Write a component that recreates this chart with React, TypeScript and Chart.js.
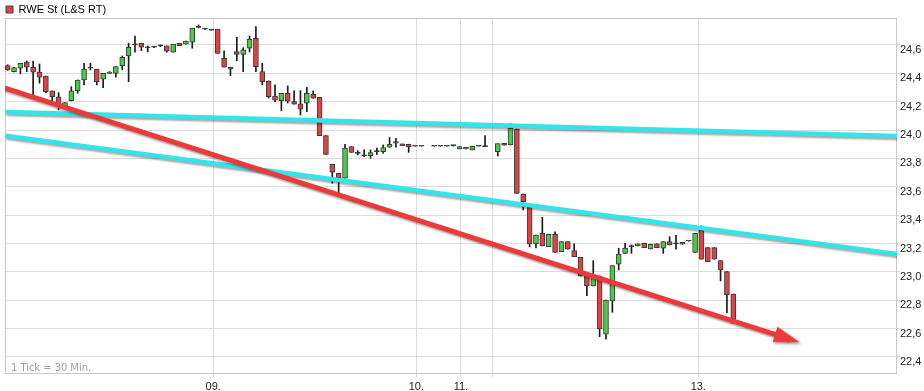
import React, { useEffect, useRef } from 'react';
import { Chart, registerables } from 'chart.js';

Chart.register(...registerables);

// ---- Data (30-minute candles, index = candle number) ----
const opens: (number | null)[] = [
  24.454, 24.412, 24.436, 24.480, 24.443, 24.408, 24.381, 24.276, 24.235, 24.163,
  24.207, 24.278, 24.353, 24.438, 24.429, 24.358, 24.400, 24.400, 24.454, 24.522,
  24.600, 24.612, 24.582, 24.586, 24.594, 24.593, 24.549, 24.612, 24.605, 24.619,
  24.724, 24.713, 24.706, 24.711, 24.506, 24.443, 24.553, 24.534, 24.577, 24.647,
  24.412, 24.346, 24.240, 24.207, 24.259, 24.200, 24.184, 24.189, 24.252, 24.231,
  23.961, 23.759, 23.695, 23.660, 23.883, 23.836, 23.819, 23.819, 23.848, 23.848,
  23.879, 23.918, 23.902, 23.900, 23.886, 23.886, null, 23.886, 23.886, 23.886,
  23.890, 23.867, 23.879, 23.860, 23.886, 23.883, null, 23.848, 23.907, 23.895,
  24.006, 23.549, 23.456, 23.197, 23.272, 23.178, 23.265, 23.143, 23.213, 23.150,
  23.103, 22.971, 22.901, 22.971, 22.560, 22.795, 23.054, 23.131, 23.178, 23.183,
  23.202, 23.162, 23.197, 23.167, 23.213, 23.197, 23.195, 23.218, 23.138, 23.296,
  23.171, 23.171, 23.079, 23.002, 22.844,
];
const highs: (number | null)[] = [
  24.460, 24.440, 24.471, 24.487, 24.487, 24.466, 24.381, 24.276, 24.264, 24.193,
  24.306, 24.353, 24.471, 24.471, 24.429, 24.400, 24.412, 24.447, 24.522, 24.612,
  24.663, 24.612, 24.593, 24.590, 24.600, 24.593, 24.605, 24.612, 24.628, 24.718,
  24.741, 24.716, 24.708, 24.711, 24.558, 24.443, 24.654, 24.581, 24.663, 24.729,
  24.471, 24.346, 24.318, 24.259, 24.311, 24.276, 24.278, 24.302, 24.276, 24.231,
  23.961, 23.759, 23.695, 23.900, 23.883, 23.855, 23.860, 23.860, 23.872, 23.895,
  23.947, 23.942, 23.902, 23.900, 23.886, 23.886, null, 23.886, 23.886, 23.886,
  23.893, 23.883, 23.879, 23.886, 23.886, 23.961, null, 23.904, 23.907, 24.048,
  24.006, 23.549, 23.456, 23.260, 23.385, 23.265, 23.282, 23.213, 23.213, 23.197,
  23.103, 22.971, 23.079, 22.971, 22.802, 23.044, 23.167, 23.202, 23.190, 23.197,
  23.202, 23.195, 23.197, 23.213, 23.248, 23.258, 23.209, 23.220, 23.272, 23.324,
  23.171, 23.171, 23.079, 23.002, 22.844,
];
const lows: (number | null)[] = [
  24.420, 24.410, 24.396, 24.412, 24.247, 24.330, 24.264, 24.200, 24.142, 24.156,
  24.205, 24.259, 24.318, 24.424, 24.318, 24.299, 24.398, 24.372, 24.424, 24.341,
  24.549, 24.560, 24.551, 24.580, 24.588, 24.549, 24.549, 24.595, 24.605, 24.577,
  24.720, 24.710, 24.704, 24.541, 24.443, 24.384, 24.489, 24.412, 24.551, 24.412,
  24.318, 24.226, 24.200, 24.137, 24.190, 24.182, 24.106, 24.130, 24.224, 23.961,
  23.829, 23.625, 23.554, 23.660, 23.843, 23.824, 23.812, 23.801, 23.829, 23.836,
  23.879, 23.879, 23.890, 23.843, 23.886, 23.886, null, 23.886, 23.886, 23.886,
  23.886, 23.867, 23.867, 23.860, 23.886, 23.883, null, 23.817, 23.893, 23.895,
  23.554, 23.437, 23.176, 23.169, 23.183, 23.178, 23.138, 23.143, 23.160, 23.107,
  22.971, 22.832, 22.901, 22.543, 22.525, 22.715, 23.014, 23.131, 23.131, 23.183,
  23.171, 23.162, 23.171, 23.131, 23.190, 23.160, 23.195, 23.216, 23.138, 23.089,
  23.072, 23.089, 22.936, 22.713, 22.638,
];
const closes: (number | null)[] = [
  24.424, 24.440, 24.471, 24.443, 24.408, 24.372, 24.271, 24.235, 24.170, 24.193,
  24.276, 24.353, 24.429, 24.436, 24.341, 24.400, 24.408, 24.447, 24.513, 24.584,
  24.603, 24.584, 24.580, 24.585, 24.596, 24.556, 24.605, 24.595, 24.628, 24.718,
  24.726, 24.712, 24.705, 24.541, 24.443, 24.429, 24.534, 24.565, 24.640, 24.447,
  24.341, 24.235, 24.210, 24.259, 24.203, 24.182, 24.147, 24.259, 24.224, 23.961,
  23.829, 23.703, 23.664, 23.872, 23.843, 23.835, 23.820, 23.841, 23.849, 23.876,
  23.900, 23.907, 23.890, 23.883, 23.886, 23.886, null, 23.886, 23.886, 23.886,
  23.890, 23.883, 23.867, 23.886, 23.886, 23.883, null, 23.904, 23.893, 24.013,
  23.554, 23.495, 23.197, 23.260, 23.183, 23.265, 23.138, 23.213, 23.160, 23.107,
  22.971, 22.901, 22.976, 22.598, 22.802, 23.044, 23.126, 23.167, 23.178, 23.197,
  23.171, 23.195, 23.171, 23.213, 23.190, 23.197, 23.209, 23.218, 23.272, 23.089,
  23.072, 23.089, 23.014, 22.837, 22.638,
];

// x-axis day separators (candle index positions) and their labels
const dayTickPositions = [32.3, 64.2, 71.2, 76.2, 108.5];
const dayTickLabels = ['09.', '10.', '11.', '', '13.'];

// y-axis tick values
const priceTicks = [22.4, 22.6, 22.8, 23.0, 23.2, 23.4, 23.6, 23.8, 24.0, 24.2, 24.4, 24.6];

// trend lines: [start, end] in (candle index, price)
const redTrendX = [-0.42, 122.5];
const redTrendY = [24.295, 22.532];
const cyanUpperX = [-0.1, 139.72];
const cyanUpperY = [24.128, 23.958];
const cyanLowerX = [-0.1, 139.72];
const cyanLowerY = [23.958, 23.126];

const X_MIN = -0.42;
const X_MAX = 139.72;
const Y_MIN = 22.28;
const Y_MAX = 24.79;

const RED = '#ec3a3a';
const CYAN = '#34e4ea';
const UP = '#46cc46';
const DOWN = '#dc4444';
const FONT = '"Liberation Sans", Arial, sans-serif';

function makeArrow(): HTMLCanvasElement {
  const c = document.createElement('canvas');
  c.width = 26;
  c.height = 18;
  const g = c.getContext('2d')!;
  g.fillStyle = RED;
  g.beginPath();
  g.moveTo(0, 1);
  g.lineTo(26, 9);
  g.lineTo(0, 17);
  g.closePath();
  g.fill();
  return c;
}

const lineShadow = {
  id: 'lineShadow',
  beforeDatasetDraw(chart: any, args: any) {
    const ds = chart.data.datasets[args.index];
    if (ds.type === 'line') {
      const ctx = chart.ctx;
      ctx.save();
      ctx.shadowColor = 'rgba(0,0,0,0.35)';
      ctx.shadowOffsetX = 1.5;
      ctx.shadowOffsetY = 2;
      ctx.shadowBlur = 2;
    }
  },
  afterDatasetDraw(chart: any, args: any) {
    const ds = chart.data.datasets[args.index];
    if (ds.type === 'line') chart.ctx.restore();
  },
};

const frameAndNote = {
  id: 'frameAndNote',
  beforeDatasetsDraw(chart: any) {
    const { ctx, chartArea: a } = chart;
    ctx.save();
    ctx.strokeStyle = '#c8c8c8';
    ctx.lineWidth = 1;
    ctx.strokeRect(Math.round(a.left) + 0.5, Math.round(a.top) + 0.5, Math.round(a.right - a.left) - 1, Math.round(a.bottom - a.top) - 1);
    ctx.fillStyle = '#a0a0a0';
    ctx.font = '11px "Liberation Sans Narrow", "DejaVu Sans Condensed", sans-serif';
    ctx.textBaseline = 'middle';
    ctx.textAlign = 'left';
    ctx.fillText('1 Tick = 30 Min.', a.left + 6, a.bottom - 6);
    ctx.restore();
  },
};

export default function App() {
  const ref = useRef<HTMLCanvasElement | null>(null);

  useEffect(() => {
    document.body.style.margin = '0';
    const canvas = ref.current!;
    const arrow = makeArrow();

    const bodyPts: any[] = [];
    const wickPts: any[] = [];
    const bodyColors: string[] = [];
    for (let i = 0; i < opens.length; i++) {
      const o = opens[i], h = highs[i], l = lows[i], c = closes[i];
      if (o == null || h == null || l == null || c == null) continue;
      bodyPts.push({ x: i, y: [o, c] });
      wickPts.push({ x: i, y: [l, h] });
      bodyColors.push(Math.abs(c - o) < 0.004 ? '#333333' : c > o ? UP : DOWN);
    }

    const pts = (xs: number[], ys: number[]) => xs.map((x, i) => ({ x, y: ys[i] }));

    const chart = new Chart(canvas, {
      type: 'bar',
      data: {
        datasets: [
          {
            type: 'line',
            label: 'trend1',
            data: pts(redTrendX, redTrendY),
            borderColor: RED,
            backgroundColor: RED,
            borderWidth: 5,
            borderCapStyle: 'round',
            tension: 0,
            fill: false,
            pointRadius: [0, 12],
            pointStyle: [false, arrow] as any,
            pointRotation: 17.7,
            order: 0,
          } as any,
          {
            type: 'line',
            label: 'trend2',
            data: pts(cyanUpperX, cyanUpperY),
            borderColor: CYAN,
            borderWidth: 4.5,
            borderCapStyle: 'round',
            tension: 0,
            fill: false,
            pointRadius: 0,
            order: 0,
          } as any,
          {
            type: 'line',
            label: 'trend3',
            data: pts(cyanLowerX, cyanLowerY),
            borderColor: CYAN,
            borderWidth: 4.5,
            borderCapStyle: 'round',
            tension: 0,
            fill: false,
            pointRadius: 0,
            order: 0,
          } as any,
          {
            type: 'bar',
            label: 'RWE St (L&S RT)',
            data: bodyPts,
            backgroundColor: bodyColors,
            borderColor: '#3a3a3a',
            borderWidth: 1,
            borderSkipped: false,
            barThickness: 5,
            minBarLength: 1,
            grouped: false,
            order: 1,
          } as any,
          {
            type: 'bar',
            label: 'wick',
            data: wickPts,
            backgroundColor: '#1a1a1a',
            borderWidth: 0,
            barThickness: 1,
            grouped: false,
            order: 2,
          } as any,
        ],
      },
      options: {
        animation: false,
        responsive: false,
        events: [],
        layout: { autoPadding: false, padding: { left: 5, right: 0, top: 3, bottom: 0 } },
        plugins: {
          tooltip: { enabled: false },
          legend: {
            display: true,
            position: 'top',
            align: 'start',
            maxHeight: 15,
            labels: {
              boxWidth: 7,
              boxHeight: 7,
              padding: 1,
              color: '#222',
              font: { family: FONT, size: 11 },
              generateLabels: () => [
                {
                  text: 'RWE St (L&S RT)',
                  fillStyle: DOWN,
                  strokeStyle: '#444',
                  lineWidth: 1,
                  hidden: false,
                  datasetIndex: 3,
                } as any,
              ],
            },
          } as any,
        },
        scales: {
          x: {
            type: 'linear',
            min: X_MIN,
            max: X_MAX,
            offset: false,
            grid: { color: '#dcdcdc', tickLength: 3, offset: false, drawTicks: true },
            border: { display: false },
            afterBuildTicks: (s: any) => {
              s.ticks = dayTickPositions.map((v) => ({ value: v }));
            },
            afterFit: (s: any) => {
              s.height = 17;
              s.paddingLeft = 0;
              s.paddingRight = 0;
            },
            ticks: {
              autoSkip: false,
              maxRotation: 0,
              padding: 3,
              color: '#222',
              font: { family: FONT, size: 11 },
              callback: (v: any) => {
                const k = dayTickPositions.indexOf(Number(v));
                return k >= 0 ? dayTickLabels[k] : '';
              },
            },
          } as any,
          y: {
            type: 'linear',
            position: 'right',
            min: Y_MIN,
            max: Y_MAX,
            beginAtZero: false,
            grid: { color: '#dcdcdc', tickLength: 3 },
            border: { display: false },
            afterBuildTicks: (s: any) => {
              s.ticks = priceTicks.map((v) => ({ value: v }));
            },
            afterFit: (s: any) => {
              s.width = 27;
              s.paddingTop = 0;
              s.paddingBottom = 0;
            },
            ticks: {
              padding: 0,
              labelOffset: 5,
              color: '#222',
              font: { family: FONT, size: 11 },
              callback: (v: any) => Number(v).toFixed(1).replace('.', ','),
            },
          } as any,
        },
      },
      plugins: [lineShadow, frameAndNote],
    } as any);

    return () => chart.destroy();
  }, []);

  return (
    <div style={{ width: 924, height: 391, position: 'relative', background: '#fff' }}>
      <canvas ref={ref} width={924} height={391} style={{ width: 924, height: 391, display: 'block' }} />
    </div>
  );
}
